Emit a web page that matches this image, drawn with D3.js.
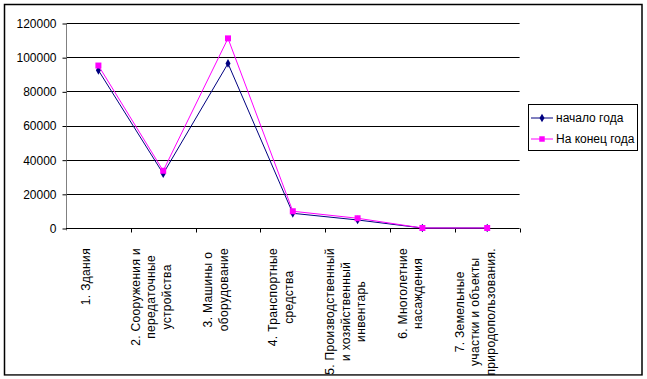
<!DOCTYPE html>
<html><head><meta charset="utf-8">
<script src="https://cdn.jsdelivr.net/npm/d3@7"></script>
<style>
html,body{margin:0;padding:0;background:#fff;}
svg{display:block;font-family:"Liberation Sans",Arial,sans-serif;}
</style></head>
<body><svg id="chart" width="647" height="379"></svg>
<script>
const categories = [
  ["1. Здания"],
  ["2. Сооружения и", "передаточные", "устройства"],
  ["3. Машины о", "оборудование"],
  ["4. Транспортные", "средства"],
  ["5. Производственный", "и хозяйственный", "инвентарь"],
  ["6. Многолетние", "насаждения"],
  ["7. Земельные", "участки и объекты", "природопользования."]
];
const seriesNames = ["начало года", "На конец года"];
const startValues = [92300, 31800, 96300, 8600, 4700, 0, 0];
const endValues = [95100, 33500, 111000, 9800, 5700, 0, 0];
const yTicks = [0, 20000, 40000, 60000, 80000, 100000, 120000];

const svg = d3.select("#chart");
const pL = 66, pR = 519.6, pT = 23, pB = 228;

const x = d3.scaleBand().domain(d3.range(categories.length)).range([pL, pR]);
const y = d3.scaleLinear().domain([0, 120000]).range([pB, pT]);

// outer border
svg.append("rect").attr("x", 4.5).attr("y", 4.5).attr("width", 637.5).attr("height", 370.5)
  .attr("fill", "#fff").attr("stroke", "#000").attr("stroke-width", 1.5);

// gridlines
svg.append("g").selectAll("line").data(yTicks.filter(d => d > 0)).join("line")
  .attr("x1", pL).attr("x2", pR)
  .attr("y1", d => Math.round(y(d)) + 0.5).attr("y2", d => Math.round(y(d)) + 0.5)
  .attr("stroke", "#000").attr("stroke-width", 1);

// y axis
const yAxis = d3.axisLeft(y).tickValues(yTicks).tickSize(4).tickPadding(6).tickFormat(d3.format("d"));
const gy = svg.append("g").attr("transform", `translate(${pL + 0.5},0.5)`).call(yAxis);
gy.select(".domain").attr("stroke", "#808080").attr("d", `M0,${pT - 0.5}V${pB + 2}`);
gy.selectAll(".tick line").attr("stroke", "#000");
gy.selectAll(".tick text").attr("font-size", 12).attr("font-family", "Liberation Sans, Arial, sans-serif").attr("fill", "#000");

// x axis line & ticks
const xAxis = d3.axisBottom(x).tickSize(0).tickFormat("");
const gx = svg.append("g").attr("transform", `translate(0,${Math.round(pB) + 0.5})`).call(xAxis);
gx.select(".domain").attr("stroke", "#000").attr("d", `M${pL},0H${pR}`);
gx.selectAll(".tick").remove();
gx.selectAll("line.bt").data(d3.range(1, categories.length + 1)).join("line")
  .attr("class", "bt")
  .attr("x1", d => Math.round(pL + d * x.step()) + 0.5)
  .attr("x2", d => Math.round(pL + d * x.step()) + 0.5)
  .attr("y1", 0).attr("y2", 4).attr("stroke", "#000");

// category labels (rotated, multi-line, centered)
const labG = svg.append("g").attr("font-size", 12).attr("fill", "#000").attr("letter-spacing", 0.35);
categories.forEach((lines, i) => {
  const cx = x(i) + x.bandwidth() / 2;
  const tmp = labG.append("g");
  const texts = lines.map(t => tmp.append("text").text(t));
  const maxLen = d3.max(texts, t => t.node().getComputedTextLength());
  tmp.remove();
  const cy = 248 + maxLen / 2;
  const n = lines.length;
  lines.forEach((t, j) => {
    const gxPos = cx - 12 + (j - (n - 1) / 2) * 15.5 + 4;
    labG.append("text")
      .attr("transform", `translate(${gxPos},${cy}) rotate(-90)`)
      .attr("text-anchor", "middle")
      .text(t);
  });
});
// clip overflow at border
svg.append("rect").attr("x", 0).attr("y", 375.8).attr("width", 647).attr("height", 4).attr("fill", "#fff");

const line = d3.line().x((d, i) => x(i) + x.bandwidth() / 2).y(d => y(d));
const colors = ["#000080", "#FF00FF"];

function drawSeries(vals, color, shape) {
  svg.append("path").datum(vals).attr("d", line).attr("fill", "none")
    .attr("stroke", color).attr("stroke-width", 1);
  svg.append("g").selectAll("path").data(vals).join("path")
    .attr("transform", (d, i) => `translate(${x(i) + x.bandwidth() / 2},${y(d)})`)
    .attr("d", d3.symbol().type(shape).size(shape === d3.symbolSquare ? 36 : 22))
    .attr("fill", color);
}
drawSeries(startValues, colors[0], d3.symbolDiamond);
drawSeries(endValues, colors[1], d3.symbolSquare);

// legend
const lg = svg.append("g");
lg.append("rect").attr("x", 528.5).attr("y", 104.5).attr("width", 109).attr("height", 46)
  .attr("fill", "#fff").attr("stroke", "#000");
seriesNames.forEach((name, i) => {
  const yy = 118 + i * 21;
  lg.append("line").attr("x1", 531).attr("x2", 553).attr("y1", yy).attr("y2", yy)
    .attr("stroke", colors[i]);
  lg.append("path").attr("transform", `translate(542,${yy})`)
    .attr("d", d3.symbol().type(i === 0 ? d3.symbolDiamond : d3.symbolSquare).size(i === 0 ? 22 : 30))
    .attr("fill", colors[i]);
  lg.append("text").attr("x", 556).attr("y", yy + 4).attr("font-size", 12).attr("fill", "#000").text(name);
});
</script></body></html>
